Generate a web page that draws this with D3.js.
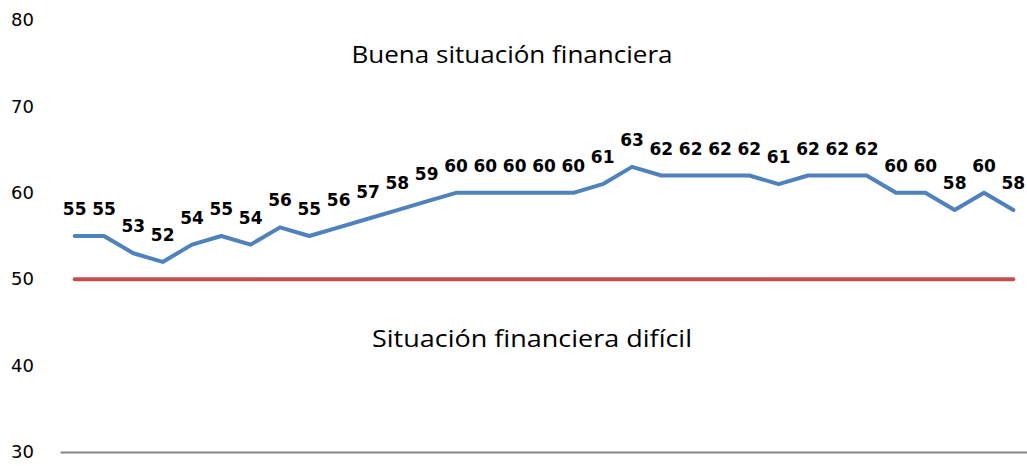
<!DOCTYPE html>
<html>
<head>
<meta charset="utf-8">
<script src="https://cdn.jsdelivr.net/npm/d3@7"></script>
<style>
  body { margin: 0; background: #fff; }
  svg { display: block; }
</style>
</head>
<body>
<div class="viz"></div>
<script>
const width = 1027;
const height = 466;

// data
const indice = [55, 55, 53, 52, 54, 55, 54, 56, 55, 56, 57, 58, 59, 60, 60, 60, 60, 60, 61, 63,
                62, 62, 62, 62, 61, 62, 62, 62, 60, 60, 58, 60, 58];
const umbral = [50, 50, 50, 50, 50, 50, 50, 50, 50, 50, 50, 50, 50, 50, 50, 50, 50, 50, 50, 50,
                50, 50, 50, 50, 50, 50, 50, 50, 50, 50, 50, 50, 50];
const yTicks = [30, 40, 50, 60, 70, 80];
const textoArriba = "Buena situación financiera";
const textoAbajo = "Situación financiera difícil";

const svg = d3.select(".viz")
    .append("svg")
    .attr("width", width)
    .attr("height", height);

const x = d3.scaleBand()
    .domain(d3.range(indice.length))
    .range([60, 1028]);

const cx = i => x(i) + x.bandwidth() / 2;

const y = d3.scaleLinear()
    .domain([30, 80])
    .range([452, 20]);

// y axis labels
const yAxis = svg.append("g")
    .attr("transform", "translate(34,0)")
    .call(d3.axisLeft(y).tickValues(yTicks).tickSize(0).tickPadding(0));
yAxis.select(".domain").remove();
yAxis.selectAll("text")
    .style("font-family", "DejaVu Sans")
    .style("font-size", "18px")
    .style("fill", "#000");

// bottom axis line
const xAxis = svg.append("g")
    .attr("transform", `translate(0,${y(30)})`)
    .call(d3.axisBottom(x).tickValues([]).tickSizeOuter(0));
xAxis.select(".domain")
    .attr("stroke", "#868686")
    .attr("stroke-width", 2);

// threshold line
const line = d3.line()
    .x((d, i) => cx(i))
    .y(d => y(d));

svg.append("path")
    .datum(umbral)
    .attr("d", line)
    .attr("fill", "none")
    .attr("stroke", "#C0504D")
    .attr("stroke-width", 4)
    .attr("stroke-linecap", "round");

// main series
svg.append("path")
    .datum(indice)
    .attr("d", line)
    .attr("fill", "none")
    .attr("stroke", "#4F81BD")
    .attr("stroke-width", 4)
    .attr("stroke-linejoin", "round")
    .attr("stroke-linecap", "round");

// value labels
svg.selectAll(".label")
    .data(indice)
    .enter()
    .append("text")
    .attr("class", "label")
    .attr("x", (d, i) => cx(i))
    .attr("y", d => y(d) - 21)
    .attr("text-anchor", "middle")
    .style("font-family", "DejaVu Sans")
    .style("font-weight", "bold")
    .style("font-size", "17px")
    .text(d => d);

// zone texts
svg.append("text")
    .attr("x", 512)
    .attr("y", 63)
    .attr("text-anchor", "middle")
    .attr("textLength", 321)
    .attr("lengthAdjust", "spacingAndGlyphs")
    .style("font-family", "Open Sans")
    .style("font-size", "24px")
    .text(textoArriba);

svg.append("text")
    .attr("x", 532)
    .attr("y", 347)
    .attr("text-anchor", "middle")
    .attr("textLength", 320)
    .attr("lengthAdjust", "spacingAndGlyphs")
    .style("font-family", "Open Sans")
    .style("font-size", "24px")
    .text(textoAbajo);
</script>
</body>
</html>
